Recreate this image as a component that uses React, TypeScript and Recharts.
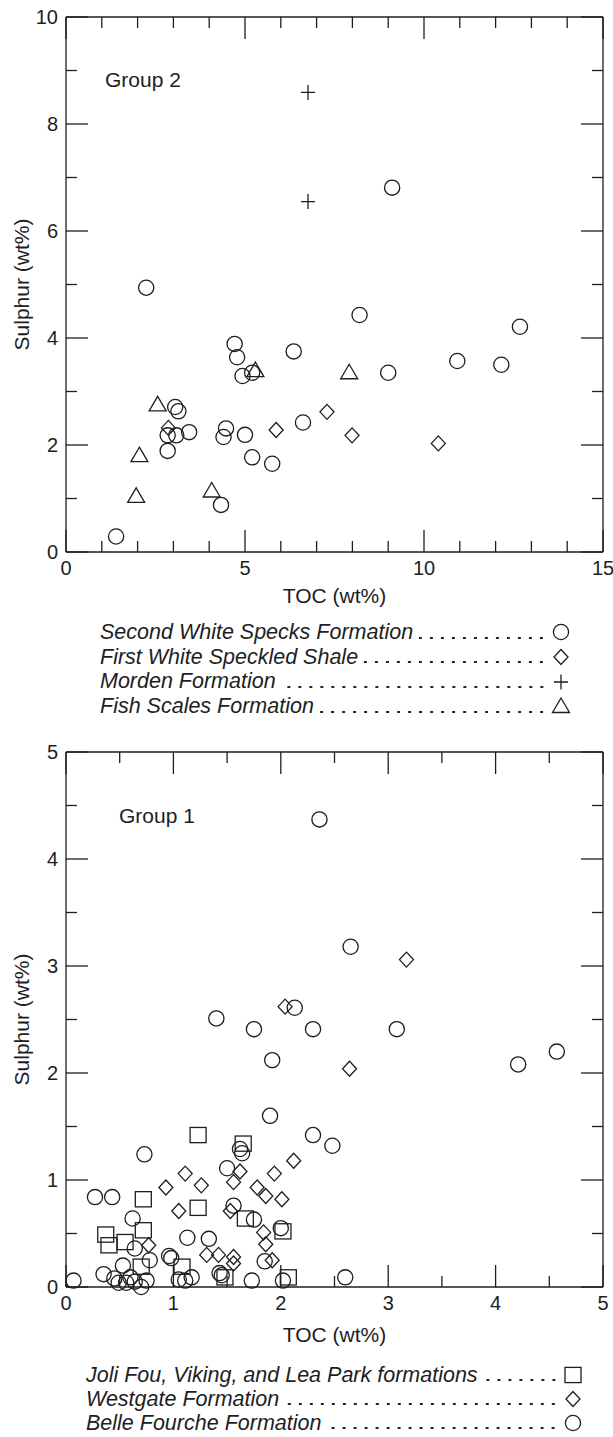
import React from 'react';
import { ScatterChart, Scatter, XAxis, YAxis } from 'recharts';

const INK = '#1e1e1e';
const FONT = '"Liberation Sans", Arial, Helvetica, sans-serif';

// ---------- Group 2 data (TOC wt%, Sulphur wt%) ----------
const secondWhiteSpecks = [
  { x: 9.11, y: 6.81 }, { x: 2.24, y: 4.94 }, { x: 8.2, y: 4.43 }, { x: 12.68, y: 4.21 },
  { x: 4.71, y: 3.89 }, { x: 4.78, y: 3.64 }, { x: 6.36, y: 3.75 }, { x: 4.93, y: 3.29 },
  { x: 5.2, y: 3.35 }, { x: 10.93, y: 3.57 }, { x: 12.16, y: 3.5 }, { x: 9.0, y: 3.35 },
  { x: 3.05, y: 2.71 }, { x: 3.14, y: 2.63 }, { x: 2.84, y: 2.18 }, { x: 3.08, y: 2.18 },
  { x: 3.44, y: 2.24 }, { x: 2.84, y: 1.89 }, { x: 4.47, y: 2.31 }, { x: 4.4, y: 2.15 },
  { x: 5.0, y: 2.19 }, { x: 5.2, y: 1.77 }, { x: 5.76, y: 1.65 }, { x: 6.62, y: 2.42 },
  { x: 4.33, y: 0.88 }, { x: 1.4, y: 0.29 },
];
const firstWhiteSpeckled = [
  { x: 2.86, y: 2.32 }, { x: 5.87, y: 2.28 }, { x: 7.29, y: 2.62 }, { x: 7.99, y: 2.18 }, { x: 10.4, y: 2.03 },
];
const morden = [
  { x: 6.76, y: 8.59 }, { x: 6.76, y: 6.55 },
];
const fishScales = [
  { x: 2.56, y: 2.76 }, { x: 2.05, y: 1.81 }, { x: 1.96, y: 1.05 }, { x: 4.07, y: 1.15 },
  { x: 5.29, y: 3.4 }, { x: 7.91, y: 3.36 },
];

// ---------- Group 1 data ----------
const joliFouVikingLeaPark = [
  { x: 1.23, y: 1.42 }, { x: 1.65, y: 1.34 }, { x: 0.72, y: 0.82 }, { x: 1.23, y: 0.74 },
  { x: 1.67, y: 0.64 }, { x: 0.37, y: 0.49 }, { x: 0.4, y: 0.39 }, { x: 0.55, y: 0.42 },
  { x: 0.72, y: 0.53 }, { x: 2.02, y: 0.52 }, { x: 0.7, y: 0.19 }, { x: 1.08, y: 0.19 },
  { x: 1.48, y: 0.09 }, { x: 2.07, y: 0.09 },
];
const westgate = [
  { x: 3.17, y: 3.06 }, { x: 2.04, y: 2.62 }, { x: 2.64, y: 2.04 }, { x: 2.12, y: 1.18 },
  { x: 1.62, y: 1.08 }, { x: 1.11, y: 1.06 }, { x: 1.94, y: 1.06 }, { x: 1.26, y: 0.95 },
  { x: 0.93, y: 0.93 }, { x: 1.56, y: 0.98 }, { x: 1.78, y: 0.93 }, { x: 1.86, y: 0.85 },
  { x: 2.01, y: 0.82 }, { x: 1.05, y: 0.71 }, { x: 1.53, y: 0.71 }, { x: 1.84, y: 0.51 },
  { x: 0.77, y: 0.39 }, { x: 1.86, y: 0.4 }, { x: 1.31, y: 0.3 }, { x: 1.42, y: 0.3 },
  { x: 1.56, y: 0.28 }, { x: 1.56, y: 0.22 }, { x: 1.92, y: 0.25 },
];
const belleFourche = [
  { x: 2.36, y: 4.37 }, { x: 2.65, y: 3.18 }, { x: 2.13, y: 2.61 }, { x: 1.4, y: 2.51 },
  { x: 1.75, y: 2.41 }, { x: 2.3, y: 2.41 }, { x: 3.08, y: 2.41 }, { x: 4.57, y: 2.2 },
  { x: 4.21, y: 2.08 }, { x: 1.92, y: 2.12 }, { x: 1.9, y: 1.6 }, { x: 2.3, y: 1.42 },
  { x: 2.48, y: 1.32 }, { x: 1.62, y: 1.29 }, { x: 1.64, y: 1.25 }, { x: 0.73, y: 1.24 },
  { x: 1.5, y: 1.11 }, { x: 0.27, y: 0.84 }, { x: 0.43, y: 0.84 }, { x: 1.56, y: 0.76 },
  { x: 0.62, y: 0.64 }, { x: 1.75, y: 0.63 }, { x: 2.0, y: 0.55 }, { x: 1.13, y: 0.46 },
  { x: 1.33, y: 0.45 }, { x: 0.64, y: 0.36 }, { x: 0.96, y: 0.29 }, { x: 0.98, y: 0.27 },
  { x: 0.78, y: 0.25 }, { x: 1.85, y: 0.24 }, { x: 0.53, y: 0.2 }, { x: 0.35, y: 0.12 },
  { x: 0.6, y: 0.09 }, { x: 0.07, y: 0.06 }, { x: 0.45, y: 0.08 }, { x: 0.49, y: 0.04 },
  { x: 0.56, y: 0.04 }, { x: 0.64, y: 0.05 }, { x: 0.7, y: 0.0 }, { x: 0.75, y: 0.06 },
  { x: 1.05, y: 0.07 }, { x: 1.11, y: 0.06 }, { x: 1.17, y: 0.09 }, { x: 1.43, y: 0.13 },
  { x: 1.45, y: 0.11 }, { x: 1.73, y: 0.06 }, { x: 2.02, y: 0.06 }, { x: 2.6, y: 0.09 },
];

// ---------- ticks ----------
const g2XTicks = [0, 1, 2, 3, 4, 5, 6, 7, 8, 9, 10, 11, 12, 13, 14, 15];
const g2YTicks = [0, 1, 2, 3, 4, 5, 6, 7, 8, 9, 10];
const g1XTicks = [0, 0.5, 1, 1.5, 2, 2.5, 3, 3.5, 4, 4.5, 5];
const g1YTicks = [0, 0.5, 1, 1.5, 2, 2.5, 3, 3.5, 4, 4.5, 5];

// ---------- layout ----------
const CHART_W = 613;
const CHART_H = 613;
const MARGIN_TOP = 16;
const TOP_AXIS_H = 1;
const BOTTOM_AXIS_H = 61;
const LEFT_AXIS_W = 66;
const RIGHT_AXIS_W = 10;
const PLOT_W = CHART_W - LEFT_AXIS_W - RIGHT_AXIS_W;
const PLOT_H = CHART_H - MARGIN_TOP - TOP_AXIS_H - BOTTOM_AXIS_H;

const SW = 1.3;
const MINOR = 11;
const MAJOR = 22;

// ---------- marker shapes ----------
const CircleShape = (p: any) => (
  <circle cx={p.cx} cy={p.cy} r={7.6} fill="none" stroke={INK} strokeWidth={SW} />
);
const DiamondShape = (p: any) => {
  const { cx, cy } = p;
  return (
    <polygon
      points={`${cx},${cy - 7.5} ${cx + 7},${cy} ${cx},${cy + 7.5} ${cx - 7},${cy}`}
      fill="none" stroke={INK} strokeWidth={SW}
    />
  );
};
const PlusShape = (p: any) => {
  const { cx, cy } = p;
  return (
    <path d={`M${cx - 7},${cy}H${cx + 7}M${cx},${cy - 7.5}V${cy + 7.5}`} fill="none" stroke={INK} strokeWidth={SW} />
  );
};
const TriangleShape = (p: any) => {
  const { cx, cy } = p;
  return (
    <polygon
      points={`${cx},${cy - 8} ${cx + 8.5},${cy + 6.5} ${cx - 8.5},${cy + 6.5}`}
      fill="none" stroke={INK} strokeWidth={SW}
    />
  );
};
const SquareShape = (p: any) => {
  const { cx, cy } = p;
  return <rect x={cx - 8} y={cy - 7.6} width={16} height={15.2} fill="none" stroke={INK} strokeWidth={SW} />;
};

// ---------- axis ticks: inward marks on both opposite sides + labels ----------
// Bottom-axis ticks also mark the top border; left-axis ticks also mark the right border.
const makeXTick = (isMajor: (v: number) => boolean) => (props: any) => {
  const x = Number(props.x);
  const y = Number(props.y);
  const v = props.payload.value as number;
  const major = isMajor(v);
  const len = major ? MAJOR : MINOR;
  const yTop = y - PLOT_H;
  return (
    <g>
      <line x1={x} y1={y} x2={x} y2={y - len} stroke={INK} strokeWidth={SW} />
      <line x1={x} y1={yTop} x2={x} y2={yTop + len} stroke={INK} strokeWidth={SW} />
      {major && (
        <text x={x} y={y + 23} textAnchor="middle" fontSize={20} fontFamily={FONT} fill={INK}>
          {v}
        </text>
      )}
    </g>
  );
};
const makeYTick = (isMajor: (v: number) => boolean) => (props: any) => {
  const x = Number(props.x);
  const y = Number(props.y);
  const v = props.payload.value as number;
  const major = isMajor(v);
  const len = major ? MAJOR : MINOR;
  const xRight = x + PLOT_W;
  return (
    <g>
      <line x1={x} y1={y} x2={x + len} y2={y} stroke={INK} strokeWidth={SW} />
      <line x1={xRight} y1={y} x2={xRight - len} y2={y} stroke={INK} strokeWidth={SW} />
      {major && (
        <text x={x - 8} y={y + 7} textAnchor="end" fontSize={20} fontFamily={FONT} fill={INK}>
          {v}
        </text>
      )}
    </g>
  );
};

type SeriesDef = { name: string; data: { x: number; y: number }[]; shape: any };

function Panel(props: {
  top: number;
  xMax: number;
  yMax: number;
  xTicks: number[];
  yTicks: number[];
  xMajor: (v: number) => boolean;
  yMajor: (v: number) => boolean;
  series: SeriesDef[];
  titleOffset: number;
}) {
  const { top, xMax, yMax, xTicks, yTicks, xMajor, yMajor, series, titleOffset } = props;
  const axisLine = { stroke: INK, strokeWidth: SW };
  return (
    <div style={{ position: 'absolute', left: 0, top }}>
      <ScatterChart width={CHART_W} height={CHART_H} margin={{ top: MARGIN_TOP, right: 0, bottom: 0, left: 0 }}>
        <XAxis
          xAxisId="b" dataKey="x" type="number" orientation="bottom" domain={[0, xMax]} ticks={xTicks}
          interval={0} height={BOTTOM_AXIS_H} tickSize={0} tickMargin={0} tickLine={false}
          axisLine={axisLine} tick={makeXTick(xMajor)}
          label={{ value: 'TOC (wt%)', position: 'insideBottom', offset: titleOffset, fontSize: 21, fontFamily: FONT, fill: INK }}
        />
        <XAxis
          xAxisId="t" dataKey="x" type="number" orientation="top" domain={[0, xMax]} ticks={xTicks}
          interval={0} height={TOP_AXIS_H} tickSize={0} tickMargin={0} tickLine={false}
          axisLine={axisLine} tick={false}
        />
        <YAxis
          yAxisId="l" dataKey="y" type="number" orientation="left" domain={[0, yMax]} ticks={yTicks}
          interval={0} width={LEFT_AXIS_W} tickSize={0} tickMargin={0} tickLine={false}
          axisLine={axisLine} tick={makeYTick(yMajor)}
          label={{
            value: 'Sulphur (wt%)', position: 'insideLeft', offset: 22, angle: -90,
            fontSize: 21, fontFamily: FONT, fill: INK, style: { textAnchor: 'middle' },
          }}
        />
        <YAxis
          yAxisId="r" dataKey="y" type="number" orientation="right" domain={[0, yMax]} ticks={yTicks}
          interval={0} width={RIGHT_AXIS_W} tickSize={0} tickMargin={0} tickLine={false}
          axisLine={axisLine} tick={false}
        />
        {series.map((s) => (
          <Scatter
            key={s.name} name={s.name} data={s.data} xAxisId="b" yAxisId="l"
            shape={s.shape} isAnimationActive={false}
          />
        ))}
      </ScatterChart>
    </div>
  );
}

function LegendRow({ label, shape, height }: { label: string; shape: any; height: number }) {
  const Shape = shape;
  return (
    <div style={{ display: 'flex', alignItems: 'center', height, lineHeight: `${height}px` }}>
      <span style={{ whiteSpace: 'nowrap' }}>{label}</span>
      <span
        style={{
          flex: 1, alignSelf: 'stretch', marginLeft: 5, marginRight: 3,
          backgroundImage: `radial-gradient(circle, ${INK} 1.1px, transparent 1.5px)`,
          backgroundSize: '11px 4px', backgroundRepeat: 'repeat-x',
          backgroundPosition: `right 2px bottom 5px`,
        }}
      />
      <svg width={18} height={18} style={{ overflow: 'visible' }}>
        <Shape cx={9} cy={9} />
      </svg>
    </div>
  );
}

const group2Series: SeriesDef[] = [
  { name: 'Second White Specks Formation', data: secondWhiteSpecks, shape: CircleShape },
  { name: 'First White Speckled Shale', data: firstWhiteSpeckled, shape: DiamondShape },
  { name: 'Morden Formation', data: morden, shape: PlusShape },
  { name: 'Fish Scales Formation', data: fishScales, shape: TriangleShape },
];
const group1Series: SeriesDef[] = [
  { name: 'Joli Fou, Viking, and Lea Park formations', data: joliFouVikingLeaPark, shape: SquareShape },
  { name: 'Westgate Formation', data: westgate, shape: DiamondShape },
  { name: 'Belle Fourche Formation', data: belleFourche, shape: CircleShape },
];

export default function App() {
  const legendText: React.CSSProperties = {
    position: 'absolute', fontFamily: FONT, fontStyle: 'italic', fontSize: 21.5, color: INK,
  };
  return (
    <div style={{ position: 'absolute', left: 0, top: 0, width: 613, height: 1437, background: '#fff', fontFamily: FONT }}>
      <Panel
        top={0} xMax={15} yMax={10} xTicks={g2XTicks} yTicks={g2YTicks}
        xMajor={(v) => v % 5 === 0} yMajor={(v) => v % 2 === 0}
        series={group2Series} titleOffset={10}
      />
      <div style={{ position: 'absolute', left: 105, top: 69, fontSize: 21, lineHeight: '21px', color: INK }}>Group 2</div>
      <div style={{ ...legendText, left: 100, top: 620, width: 470 }}>
        {group2Series.map((s) => (
          <LegendRow key={s.name} label={s.name} shape={s.shape} height={24.7} />
        ))}
      </div>

      <Panel
        top={735} xMax={5} yMax={5} xTicks={g1XTicks} yTicks={g1YTicks}
        xMajor={(v) => Number.isInteger(v)} yMajor={(v) => Number.isInteger(v)}
        series={group1Series} titleOffset={6}
      />
      <div style={{ position: 'absolute', left: 119, top: 805, fontSize: 21, lineHeight: '21px', color: INK }}>Group 1</div>
      <div style={{ ...legendText, left: 86, top: 1363, width: 496 }}>
        {group1Series.map((s) => (
          <LegendRow key={s.name} label={s.name} shape={s.shape} height={24} />
        ))}
      </div>
    </div>
  );
}
